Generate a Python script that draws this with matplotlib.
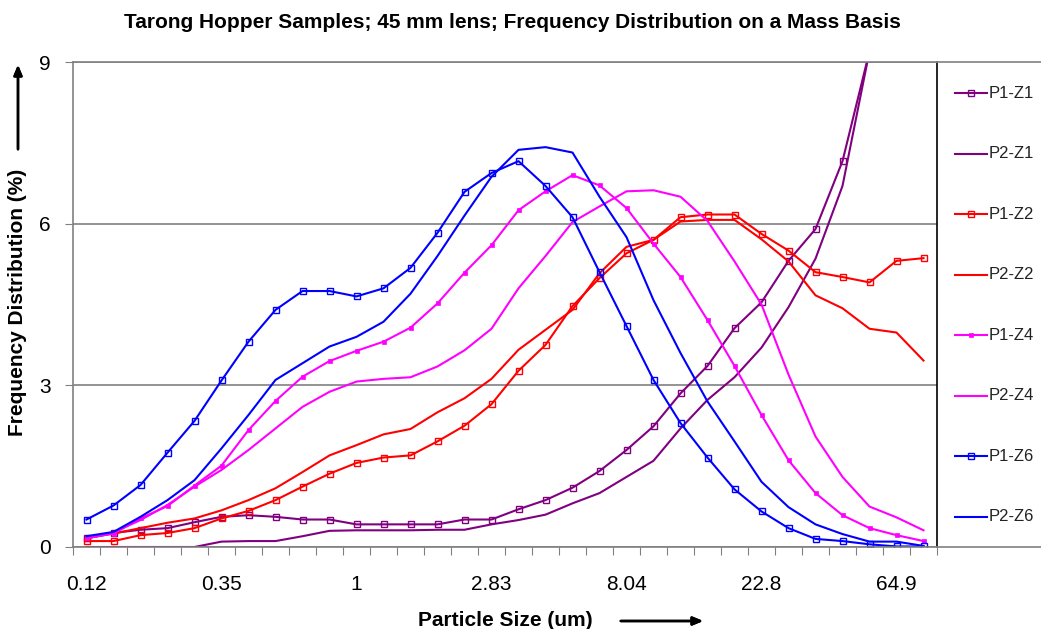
import numpy as np
import matplotlib
matplotlib.use("Agg")
import matplotlib.pyplot as plt
from matplotlib.lines import Line2D

plt.rcParams['font.family'] = ['Liberation Sans', 'DejaVu Sans']

# particle size classes (one label every 5 classes)
size_labels = ["0.12", "0.35", "1", "2.83", "8.04", "22.8", "64.9"]
label_step = 5

# frequency distribution (%) per size class
p1_z1 = [0.16, 0.26, 0.32, 0.35, 0.46, 0.56, 0.59, 0.56, 0.51, 0.51, 0.42, 0.42,
         0.42, 0.42, 0.51, 0.51, 0.70, 0.87, 1.10, 1.41, 1.80, 2.24, 2.85, 3.36,
         4.06, 4.54, 5.31, 5.90, 7.16, 9.2, 12.0, 14.0]
p2_z1 = [0.0, 0.0, 0.0, 0.0, 0.0, 0.10, 0.11, 0.11, 0.20, 0.30, 0.31, 0.31,
         0.31, 0.32, 0.32, 0.42, 0.50, 0.60, 0.81, 1.00, 1.30, 1.60, 2.20, 2.73,
         3.15, 3.70, 4.45, 5.35, 6.70, 9.2, 12.0, 14.0]
p1_z2 = [0.11, 0.11, 0.22, 0.26, 0.35, 0.53, 0.67, 0.87, 1.12, 1.36, 1.56, 1.66,
         1.70, 1.96, 2.25, 2.65, 3.27, 3.75, 4.47, 4.99, 5.45, 5.70, 6.12, 6.17,
         6.17, 5.81, 5.50, 5.10, 5.01, 4.91, 5.31, 5.36]
p2_z2 = [0.17, 0.25, 0.35, 0.45, 0.53, 0.68, 0.87, 1.09, 1.39, 1.70, 1.89, 2.09,
         2.19, 2.50, 2.76, 3.12, 3.66, 4.03, 4.40, 5.08, 5.57, 5.70, 6.04, 6.07,
         6.07, 5.71, 5.30, 4.67, 4.43, 4.05, 3.98, 3.46]
p1_z4 = [0.16, 0.25, 0.53, 0.76, 1.14, 1.51, 2.17, 2.71, 3.16, 3.45, 3.64, 3.81,
         4.07, 4.52, 5.09, 5.60, 6.25, 6.60, 6.90, 6.71, 6.29, 5.63, 5.01, 4.21,
         3.36, 2.45, 1.61, 1.00, 0.59, 0.35, 0.22, 0.11]
p2_z4 = [0.16, 0.27, 0.50, 0.78, 1.12, 1.43, 1.80, 2.20, 2.60, 2.88, 3.07, 3.12,
         3.15, 3.35, 3.65, 4.05, 4.80, 5.40, 6.03, 6.32, 6.60, 6.62, 6.50, 6.05,
         5.30, 4.50, 3.20, 2.05, 1.30, 0.75, 0.55, 0.31]
p1_z6 = [0.51, 0.77, 1.15, 1.75, 2.34, 3.09, 3.81, 4.40, 4.75, 4.75, 4.65, 4.80,
         5.18, 5.83, 6.59, 6.94, 7.16, 6.70, 6.12, 5.10, 4.10, 3.10, 2.30, 1.66,
         1.07, 0.66, 0.35, 0.15, 0.11, 0.05, 0.01, 0.01]
p2_z6 = [0.20, 0.28, 0.56, 0.87, 1.24, 1.83, 2.45, 3.10, 3.41, 3.72, 3.90, 4.18,
         4.70, 5.40, 6.15, 6.87, 7.37, 7.42, 7.32, 6.50, 5.75, 4.58, 3.60, 2.70,
         1.96, 1.21, 0.74, 0.42, 0.24, 0.10, 0.10, 0.02]

purple, red, magenta, blue = "#800080", "#FF0000", "#FF00FF", "#0000FF"
series = [
    ("P1-Z1", p1_z1, purple, "open"),
    ("P2-Z1", p2_z1, purple, None),
    ("P1-Z2", p1_z2, red, "open"),
    ("P2-Z2", p2_z2, red, None),
    ("P1-Z4", p1_z4, magenta, "filled"),
    ("P2-Z4", p2_z4, magenta, None),
    ("P1-Z6", p1_z6, blue, "open"),
    ("P2-Z6", p2_z6, blue, None),
]

def marker_style(kind, col):
    if kind == "open":
        return dict(marker="s", ms=5, mfc="none", mec=col, mew=1)
    if kind == "filled":
        return dict(marker="s", ms=3, mfc=col, mec=col, mew=0.5)
    return dict(marker=None)

W, H = 1041, 629
fig = plt.figure(figsize=(W / 100, H / 100), dpi=100)
ax = fig.add_axes([73 / W, 82 / H, 864 / W, 485 / H])

x = np.arange(len(p1_z1))
for name, vals, col, kind in series:
    ax.plot(x, vals, color=col, lw=1.5, label=name, **marker_style(kind, col))

grey = "#808080"
ax.set_xlim(-0.5, len(x) - 0.5)
ax.set_ylim(0, 9)
ax.set_yticks([0, 3, 6, 9])
ax.yaxis.grid(True, color=grey, lw=1.2)
ax.set_axisbelow(True)
ax.tick_params(axis="y", direction="out", length=6, color=grey, labelsize=15, pad=10)

ax.set_xticks(np.arange(-0.5, len(x), 1))
ax.set_xticklabels([])
ax.set_xticks(np.arange(0, len(x), label_step), minor=True)
ax.set_xticklabels(size_labels, minor=True)
ax.tick_params(axis="x", which="major", direction="out", length=6, color=grey)
ax.tick_params(axis="x", which="minor", length=0, labelsize=15, pad=20)

for s in ["left", "bottom", "top"]:
    ax.spines[s].set_color(grey)
    ax.spines[s].set_linewidth(1.2)
ax.spines["right"].set_color("black")
ax.spines["right"].set_linewidth(1.2)

# legend box on the right, flush with the plot area
top_y, bot_y = 1 - 62 / H, 1 - 547 / H
fig.add_artist(Line2D([937 / W, 1], [top_y, top_y], color=grey, lw=1.2))
fig.add_artist(Line2D([937 / W, 1], [bot_y, bot_y], color=grey, lw=1.2))
for i, (name, vals, col, kind) in enumerate(series):
    yy = 1 - (93.3 + 60.5 * i) / H
    fig.add_artist(Line2D([955 / W, 971 / W, 987 / W], [yy, yy, yy], color=col, lw=1.5,
                          markevery=[1], **marker_style(kind, col)))
    fig.text(989 / W, yy, name, fontsize=12, va="center", ha="left", color="#222222")

fig.text(512 / W, 1 - 22 / H, "Tarong Hopper Samples; 45 mm lens; Frequency Distribution on a Mass Basis",
         ha="center", va="center", fontsize=15, weight="bold")
fig.text(18 / W, 1 - 302 / H, "Frequency Distribution (%)", rotation=90,
         ha="center", va="center", fontsize=15, weight="bold")
fig.text(505 / W, 1 - 620 / H, "Particle Size (um)", ha="center", va="center",
         fontsize=15, weight="bold")

arrow = dict(arrowstyle="-|>,head_length=0.6,head_width=0.25", color="black", lw=1.8)
fig.add_artist(plt.annotate("", xy=(18 / W, 1 - 62 / H), xytext=(18 / W, 1 - 152 / H),
                            xycoords="figure fraction", arrowprops=arrow))
fig.add_artist(plt.annotate("", xy=(706 / W, 1 - 621 / H), xytext=(618 / W, 1 - 621 / H),
                            xycoords="figure fraction", arrowprops=arrow))

plt.savefig("out.png", dpi=100)
